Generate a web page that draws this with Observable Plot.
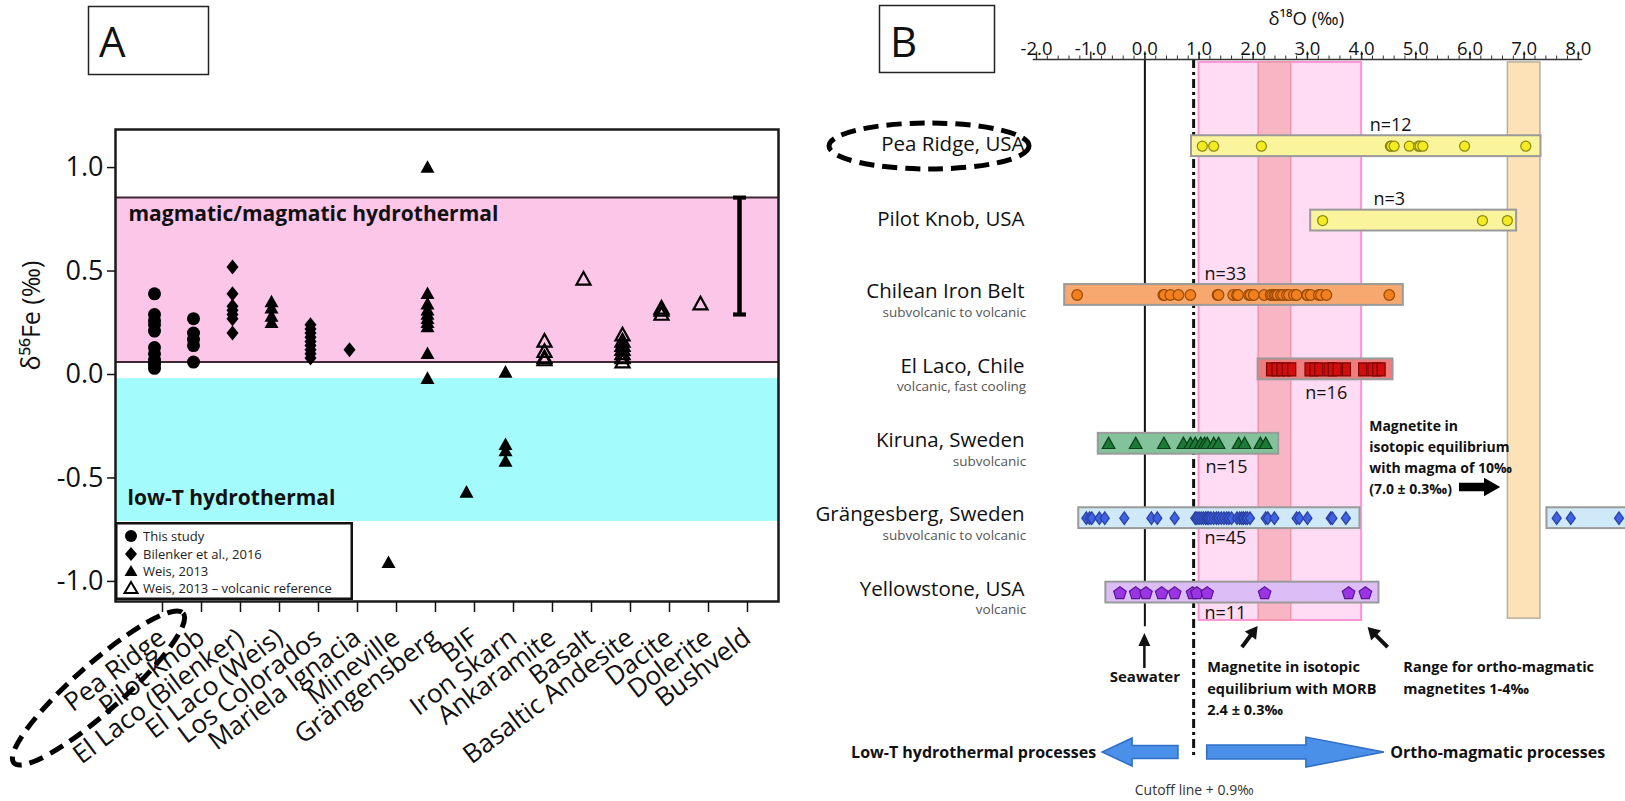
<!DOCTYPE html>
<html><head><meta charset="utf-8">
<script src="https://cdn.jsdelivr.net/npm/d3@7"></script>
<script src="https://cdn.jsdelivr.net/npm/@observablehq/plot@0.6"></script>
<style>
html,body{margin:0;padding:0;background:#fff;overflow:hidden;}
#page{position:relative;width:1625px;height:801px;font-family:"Open Sans",sans-serif;}
#plotA,#plotB{position:absolute;top:0;}
#plotA{left:0;width:800px;height:801px;}
#plotB{left:800px;width:825px;height:801px;overflow:hidden;}
#legendA{position:absolute;left:115px;top:522px;}
#overlay{position:absolute;left:0;top:0;pointer-events:none;}
</style></head>
<body><div id="page">
<div id="plotA"></div>
<div id="plotB"></div>
<svg id="legendA" width="238" height="78">
  <rect x="1.25" y="1.25" width="235.5" height="75.5" fill="#fff" stroke="#111" stroke-width="2.5"/>
  <circle cx="16" cy="14" r="6" fill="#000"/>
  <path d="M16,25 L22,32 L16,39 L10,32Z" fill="#000"/>
  <path d="M16,43 L22.5,54 L9.5,54Z" fill="#000"/>
  <path d="M16,60 L22.5,71 L9.5,71Z" fill="none" stroke="#000" stroke-width="2"/>
  <g font-family="Open Sans, sans-serif" font-size="13" fill="#222">
    <text x="28" y="18.5">This study</text>
    <text x="28" y="36.5">Bilenker et al., 2016</text>
    <text x="28" y="53.5">Weis, 2013</text>
    <text x="28" y="70.5">Weis, 2013 – volcanic reference</text>
  </g>
</svg>
<svg id="overlay" width="1625" height="801">
  <rect x="88.5" y="6.5" width="120" height="68" fill="#fff" stroke="#222" stroke-width="1.5"/>
  <text x="99" y="57" font-family="Open Sans, sans-serif" font-size="42" fill="#111">A</text>
  <rect x="879.5" y="5.5" width="115" height="67" fill="#fff" stroke="#222" stroke-width="1.5"/>
  <text x="890" y="57" font-family="Open Sans, sans-serif" font-size="42" fill="#111">B</text>
  <ellipse cx="98.5" cy="688" rx="113" ry="24" transform="rotate(-41.5 98.5 688)" fill="none" stroke="#000" stroke-width="5" stroke-dasharray="15,8"/>
  <ellipse cx="929" cy="146" rx="100" ry="23" fill="none" stroke="#000" stroke-width="5" stroke-dasharray="15,8"/>
</svg>
</div>
<script>
// ---------------- Panel A data ----------------
const catsA = ["Pea Ridge","Pilot Knob","El Laco (Bilenker)","El Laco (Weis)","Los Colorados","Mariela Ignacia","Mineville","Grängensberg","BIF","Iron Skarn","Ankaramite","Basalt","Basaltic Andesite","Dacite","Dolerite","Bushveld"];
const thisStudy = [
  ["Pea Ridge",0.39],["Pea Ridge",0.29],["Pea Ridge",0.26],["Pea Ridge",0.24],["Pea Ridge",0.21],
  ["Pea Ridge",0.13],["Pea Ridge",0.10],["Pea Ridge",0.07],["Pea Ridge",0.05],["Pea Ridge",0.03],
  ["Pilot Knob",0.27],["Pilot Knob",0.20],["Pilot Knob",0.17],["Pilot Knob",0.14],["Pilot Knob",0.06]
];
const bilenker = [
  ["El Laco (Bilenker)",0.52],["El Laco (Bilenker)",0.39],["El Laco (Bilenker)",0.33],["El Laco (Bilenker)",0.31],
  ["El Laco (Bilenker)",0.29],["El Laco (Bilenker)",0.27],["El Laco (Bilenker)",0.20],
  ["Los Colorados",0.24],["Los Colorados",0.22],["Los Colorados",0.20],["Los Colorados",0.18],["Los Colorados",0.16],
  ["Los Colorados",0.14],["Los Colorados",0.12],["Los Colorados",0.10],["Los Colorados",0.08],
  ["Mariela Ignacia",0.12]
];
const weis = [
  ["El Laco (Weis)",0.35],["El Laco (Weis)",0.32],["El Laco (Weis)",0.28],["El Laco (Weis)",0.25],
  ["Mineville",-0.91],
  ["Grängensberg",1.00],["Grängensberg",0.39],["Grängensberg",0.34],["Grängensberg",0.31],["Grängensberg",0.29],
  ["Grängensberg",0.27],["Grängensberg",0.25],["Grängensberg",0.23],["Grängensberg",0.10],["Grängensberg",-0.02],
  ["BIF",-0.57],
  ["Iron Skarn",0.01],["Iron Skarn",-0.34],["Iron Skarn",-0.37],["Iron Skarn",-0.42]
];
const weisVolcanic = [
  ["Ankaramite",0.16],["Ankaramite",0.11],["Ankaramite",0.08],["Ankaramite",0.07],
  ["Basalt",0.46],
  ["Basaltic Andesite",0.19],["Basaltic Andesite",0.16],["Basaltic Andesite",0.14],["Basaltic Andesite",0.12],
  ["Basaltic Andesite",0.10],["Basaltic Andesite",0.08],["Basaltic Andesite",0.06],
  ["Dacite",0.32],["Dacite",0.31],["Dacite",0.29],
  ["Dolerite",0.34]
];
const bushveldRange = [0.29, 0.855];
const magmaticBand = [0.06, 0.855];
const lowTBand = [-0.71, -0.02];
const yTicksA = [-1, -0.5, 0, 0.5, 1];

// ---------------- Panel B data ----------------
const rowsB = ["Pea Ridge, USA","Pilot Knob, USA","Chilean Iron Belt","El Laco, Chile","Kiruna, Sweden","Grängesberg, Sweden","Yellowstone, USA"];
const subtitlesB = ["","","subvolcanic to volcanic","volcanic, fast cooling","subvolcanic","subvolcanic to volcanic","volcanic"];
const nLabelsB = ["n=12","n=3","n=33","n=16","n=15","n=45","n=11"];
const barLowB = [0.86, 3.06, -1.48, 2.09, -0.86, -1.22, -0.72];
const barHighB = [7.31, 6.86, 4.77, 4.58, 2.47, 3.97, 4.32];
const grangesbergOutlierBar = [7.42, 9.3];
const peaRidgeO = [1.06, 1.27, 2.15, 4.53, 4.55, 4.60, 4.88, 5.05, 5.08, 5.13, 5.90, 7.03];
const pilotKnobO = [3.28, 6.23, 6.69];
const chileanO = [-1.25, 0.34, 0.36, 0.47, 0.62, 0.84, 1.34, 1.36, 1.63, 1.70, 1.72, 1.92, 1.95, 2.01, 2.20, 2.32, 2.35, 2.39, 2.42, 2.45, 2.51, 2.55, 2.62, 2.66, 2.75, 2.80, 2.99, 3.00, 3.06, 3.21, 3.25, 3.35, 4.51];
const elLacoO = [2.32, 2.42, 2.51, 2.61, 2.71, 3.03, 3.12, 3.21, 3.38, 3.46, 3.55, 3.72, 4.02, 4.19, 4.28, 4.36];
const kirunaO = [-0.67, -0.17, 0.35, 0.71, 0.84, 0.93, 1.03, 1.10, 1.15, 1.27, 1.36, 1.73, 1.84, 2.13, 2.23];
const grangesbergO = [-1.08, -1.02, -0.98, -0.84, -0.74, -0.38, 0.12, 0.23, 0.55, 0.93, 0.96, 1.00, 1.04, 1.08, 1.12, 1.15, 1.18, 1.22, 1.27, 1.32, 1.36, 1.41, 1.46, 1.51, 1.55, 1.60, 1.70, 1.75, 1.79, 1.82, 1.86, 1.89, 1.94, 2.23, 2.27, 2.39, 2.80, 2.85, 3.00, 3.43, 3.46, 3.71, 7.60, 7.86, 8.75];
const yellowstoneO = [-0.46, -0.17, 0.02, 0.31, 0.55, 0.88, 0.96, 1.15, 2.21, 3.76, 4.07];
const ticksB = [-2, -1, 0, 1, 2, 3, 4, 5, 6, 7, 8];
const minorTicksB = d3.range(-20, 81, 2).map(d => d / 10);
const seawaterB = 0.0;
const cutoffB = 0.9;
const orthoBand = [1.0, 4.0];
const morbBand = [2.1, 2.7];
const magmaBand = [6.7, 7.3];

// ---------------- symbols ----------------
const sym = pts => ({draw(ctx, size) {
  const s = Math.sqrt(size / Math.PI);
  pts.forEach(([a, b], i) => i ? ctx.lineTo(a * s, b * s) : ctx.moveTo(a * s, b * s));
  ctx.closePath();
}});
const triSym = sym([[0,-1.05],[1,0.75],[-1,0.75]]);
const rhombSym = sym([[0,-1],[0.8,0],[0,1],[-0.8,0]]);
const rhombSymB = sym([[0,-1],[0.72,0],[0,1],[-0.72,0]]);
const rectSym = sym([[-0.62,-1],[0.62,-1],[0.62,1],[-0.62,1]]);
const pentSym = sym(d3.range(5).map(k => [Math.cos((-90 + 72 * k) * Math.PI / 180), Math.sin((-90 + 72 * k) * Math.PI / 180) + 0.1]));
const capSym = sym([[-1,-0.32],[1,-0.32],[1,0.32],[-1,0.32]]);
const FF = "'Open Sans', sans-serif";

// ---------------- Panel A ----------------
const plotA = Plot.plot({
  width: 800, height: 801,
  marginLeft: 115, marginRight: 22, marginTop: 129, marginBottom: 200,
  style: {fontFamily: FF, background: "#fff", color: "#111"},
  x: {type: "point", domain: catsA, padding: 1},
  y: {domain: [-1.097, 1.184]},
  marks: [
    Plot.rect([magmaticBand], {y1: d => d[0], y2: d => d[1], fill: "#fcc6e9"}),
    Plot.rect([lowTBand], {y1: d => d[0], y2: d => d[1], fill: "#a4fbfc"}),
    Plot.ruleY(magmaticBand, {stroke: "#3b2833", strokeWidth: 2}),
    Plot.text(["magmatic/magmatic hydrothermal"], {frameAnchor: "left", y: 0.775, dx: 13, textAnchor: "start", fontWeight: "bold", fontSize: 21, fill: "#111"}),
    Plot.text(["low-T hydrothermal"], {frameAnchor: "left", y: -0.6, dx: 12, textAnchor: "start", fontWeight: "bold", fontSize: 21, fill: "#111"}),
    Plot.dot(thisStudy, {x: d => d[0], y: d => d[1], r: 6.5, fill: "#000", symbol: "circle"}),
    Plot.dot(bilenker, {x: d => d[0], y: d => d[1], r: 7.5, fill: "#000", symbol: rhombSym}),
    Plot.dot(weis, {x: d => d[0], y: d => d[1], r: 7, fill: "#000", symbol: triSym}),
    Plot.dot(weisVolcanic, {x: d => d[0], y: d => d[1], r: 7, fill: "none", stroke: "#000", strokeWidth: 2.2, symbol: triSym}),
    Plot.ruleX(["Bushveld"], {y1: bushveldRange[0], y2: bushveldRange[1], stroke: "#000", strokeWidth: 4.5}),
    Plot.dot(bushveldRange, {x: () => "Bushveld", y: d => d, r: 6.5, fill: "#000", symbol: capSym}),
    Plot.frame({stroke: "#1a1a1a", strokeWidth: 2.5}),
    Plot.axisY({ticks: yTicksA, tickFormat: d => d.toFixed(1), fontSize: 27, tickSize: 8, tickPadding: 4, label: null, strokeWidth: 1.5}),
    Plot.axisX({tickRotate: -37, fontSize: 26, tickSize: 11, tickPadding: 22, dx: 8, label: null, strokeWidth: 1.5}),
    Plot.text(["δ⁵⁶Fe (‰)"], {frameAnchor: "left", rotate: -90, dx: -84, dy: 5, fontSize: 25, fill: "#111"})
  ]
});
document.getElementById("plotA").appendChild(plotA);

// ---------------- Panel B ----------------
const bH = 0.14;
const barFills = ["#faf59c","#faf59c","#f7a86f","#ee7e7e","#82c39c","#cfe9f8","#dcbdf5"];
const rowPts = [peaRidgeO, pilotKnobO, chileanO, elLacoO, kirunaO, grangesbergO, yellowstoneO];
const ptStyle = [
  {symbol: "circle", r: 5, fill: "#f4ec22", stroke: "#8c8612"},
  {symbol: "circle", r: 5, fill: "#f4ec22", stroke: "#8c8612"},
  {symbol: "circle", r: 5.3, fill: "#f2801f", stroke: "#9a4a05"},
  {symbol: rectSym, r: 6.5, fill: "#d10d0d", stroke: "#7a0505"},
  {symbol: triSym, r: 6.3, fill: "#1c7a37", stroke: "#0b3d18"},
  {symbol: rhombSymB, r: 6.3, fill: "#3f62e2", stroke: "#2a3fa0"},
  {symbol: pentSym, r: 6.6, fill: "#9a34e4", stroke: "#5b1790"}
];
const nPos = [[4.15,-0.28],[4.22,0.716],[1.1,1.724],[2.96,3.32],[1.12,4.32],[1.1,5.27],[1.1,6.28]];
const axR = -1.165;
const bandTop = -1.125;

const plotB = Plot.plot({
  width: 825, height: 801,
  marginLeft: 236, marginRight: 0, marginTop: 0, marginBottom: 0,
  style: {fontFamily: FF, background: "#fff", color: "#111"},
  x: {domain: [-2, 8.87], axis: null},
  y: {domain: [-1.958, 8.808], reverse: true, axis: null},
  marks: [
    Plot.rect([orthoBand], {x1: d => d[0], x2: d => d[1], y1: bandTop, y2: 6.375, fill: "#ffdcf3", stroke: "#ff94d4", strokeWidth: 2}),
    Plot.rect([morbBand], {x1: d => d[0], x2: d => d[1], y1: bandTop, y2: 6.375, fill: "#f8b6c4", stroke: "#f195ab", strokeWidth: 1.5}),
    Plot.rect([magmaBand], {x1: d => d[0], x2: d => d[1], y1: bandTop, y2: 6.35, fill: "#fde1b7", stroke: "#b7ae9c", strokeWidth: 1.5}),
    Plot.ruleX([seawaterB], {y1: axR, y2: 6.46, stroke: "#111", strokeWidth: 2}),
    Plot.ruleX([cutoffB], {y1: axR, y2: 8.2, stroke: "#111", strokeWidth: 3, strokeDasharray: "9,4,3,4"}),
    // top ruler axis
    Plot.ruleY([axR], {x1: -2.06, x2: 8.08, stroke: "#333", strokeWidth: 1.5}),
    Plot.ruleX(minorTicksB, {y1: axR, y2: axR - 3.5 / 74.4, stroke: "#333", strokeWidth: 1}),
    Plot.ruleX(ticksB, {y1: axR, y2: axR - 7.5 / 74.4, stroke: "#333", strokeWidth: 1.5}),
    Plot.text(ticksB, {x: d => d, y: -1.30, text: d => d.toFixed(1), fontSize: 18.5, fill: "#111"}),
    Plot.text(["δ¹⁸O (‰)"], {x: 2.98, y: -1.703, fontSize: 18.5, fill: "#111"}),
    // bars
    ...rowsB.map((name, i) => Plot.rect([[barLowB[i], barHighB[i]]], {x1: d => d[0], x2: d => d[1], y1: i - bH, y2: i + bH, fill: barFills[i], stroke: "#9a9a9a", strokeWidth: 2})),
    Plot.rect([grangesbergOutlierBar], {x1: d => d[0], x2: d => d[1], y1: 5 - bH, y2: 5 + bH, fill: barFills[5], stroke: "#9a9a9a", strokeWidth: 2, clip: true}),
    // points
    ...rowPts.map((vals, i) => Plot.dot(vals, {x: d => d, y: i, strokeWidth: 1.2, clip: true, ...ptStyle[i]})),
    // labels
    Plot.text(rowsB, {x: -2.22, y: (d, i) => i + (subtitlesB[i] ? -0.045 : -0.02), text: d => d, textAnchor: "end", fontSize: 20.5, fill: "#111"}),
    Plot.text(subtitlesB, {x: -2.19, y: (d, i) => i + 0.235, text: d => d, textAnchor: "end", fontSize: 13.5, fill: "#555"}),
    Plot.text(nLabelsB, {x: (d, i) => nPos[i][0], y: (d, i) => nPos[i][1], text: d => d, textAnchor: "start", fontSize: 18, fill: "#111"}),
    // annotations
    Plot.text(["Magnetite in\nisotopic equilibrium\nwith magma of 10‰\n(7.0 ± 0.3‰)"], {x: 4.14, y: 4.164, textAnchor: "start", fontWeight: "bold", fontSize: 14, lineHeight: 1.5, fill: "#111"}),
    Plot.text(["Seawater"], {x: 0, y: 7.14, fontWeight: "bold", fontSize: 15, fill: "#111"}),
    Plot.text(["Magnetite in isotopic\nequilibrium with MORB\n2.4 ± 0.3‰"], {x: 1.15, y: 7.27, textAnchor: "start", fontWeight: "bold", fontSize: 14.5, lineHeight: 1.48, fill: "#111"}),
    Plot.text(["Range for ortho-magmatic\nmagnetites 1-4‰"], {x: 4.77, y: 7.125, textAnchor: "start", fontWeight: "bold", fontSize: 14.5, lineHeight: 1.48, fill: "#111"}),
    Plot.text(["Low-T hydrothermal processes"], {x: -0.9, y: 8.15, textAnchor: "end", fontWeight: "bold", fontSize: 16, fill: "#111"}),
    Plot.text(["Ortho-magmatic processes"], {x: 4.53, y: 8.15, textAnchor: "start", fontWeight: "bold", fontSize: 16, fill: "#111"}),
    Plot.text(["Cutoff line + 0.9‰"], {x: 0.91, y: 8.66, fontSize: 14, fill: "#333"})
  ]
});
document.getElementById("plotB").appendChild(plotB);

// arrows computed through panel B scales
const xB = plotB.scale("x"), yB = plotB.scale("y");
const px = v => xB.apply(v), py = r => yB.apply(r);
const gB = d3.select(plotB).append("g");
function blockArrow(v0, v1, r, shaft, head, headLen, fill, stroke) {
  const x0 = px(v0), x1 = px(v1), y = py(r), dir = Math.sign(x1 - x0), hb = x1 - dir * headLen;
  gB.append("path")
    .attr("d", `M${x0},${y - shaft}L${hb},${y - shaft}L${hb},${y - head}L${x1},${y}L${hb},${y + head}L${hb},${y + shaft}L${x0},${y + shaft}Z`)
    .attr("fill", fill).attr("stroke", stroke).attr("stroke-width", 1.5).attr("stroke-linejoin", "miter");
}
function lineArrow(v0, r0, v1, r1, w, headLen, headW) {
  const x0 = px(v0), y0 = py(r0), x1 = px(v1), y1 = py(r1);
  const a = Math.atan2(y1 - y0, x1 - x0), c = Math.cos(a), s = Math.sin(a);
  const bx = x1 - c * headLen, by = y1 - s * headLen;
  gB.append("line").attr("x1", x0).attr("y1", y0).attr("x2", bx + c).attr("y2", by + s)
    .attr("stroke", "#111").attr("stroke-width", w);
  gB.append("path")
    .attr("d", `M${x1},${y1}L${bx - s * headW / 2},${by + c * headW / 2}L${bx + s * headW / 2},${by - c * headW / 2}Z`)
    .attr("fill", "#111");
}
blockArrow(0.62, -0.78, 8.15, 6.5, 14, 30, "#4a8fe8", "#2f6fc4");
blockArrow(1.15, 4.42, 8.15, 7, 15, 78, "#4a8fe8", "#2f6fc4");
blockArrow(5.82, 6.54, 4.587, 3.5, 8, 14, "#000", "#000");
lineArrow(0, 7.02, 0, 6.55, 2.5, 13, 12);
lineArrow(1.80, 6.74, 2.09, 6.455, 4, 12, 14);
lineArrow(4.49, 6.74, 4.12, 6.47, 4, 12, 14);
</script>
</body></html>
